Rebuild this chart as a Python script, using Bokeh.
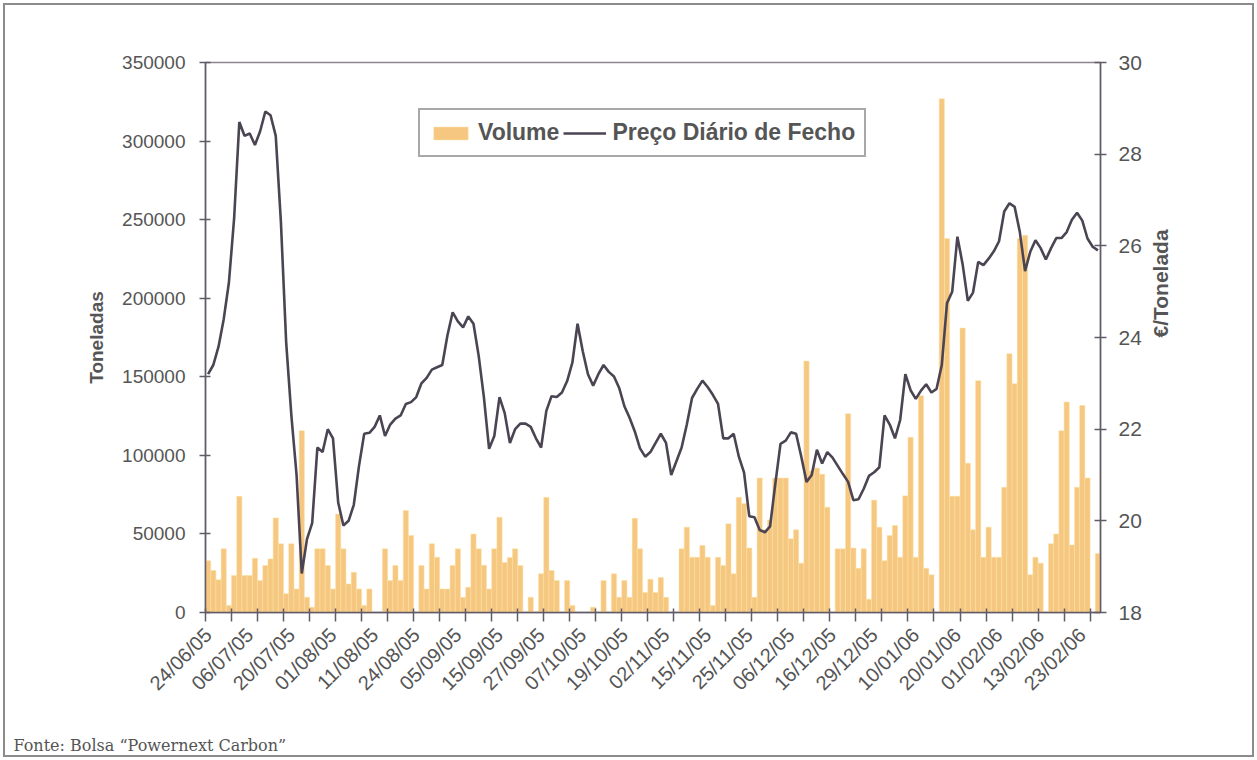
import math
from bokeh.plotting import figure
from bokeh.models import (Range1d, LinearAxis, FixedTicker, BasicTickFormatter,
                          Legend, LegendItem, Label, ColumnDataSource)
from bokeh.embed import file_html
from bokeh.resources import INLINE

# ---------------- data ----------------
date_labels = ["24/06/05", "06/07/05", "20/07/05", "01/08/05", "11/08/05", "24/08/05",
               "05/09/05", "15/09/05", "27/09/05", "07/10/05", "19/10/05", "02/11/05",
               "15/11/05", "25/11/05", "06/12/05", "16/12/05", "29/12/05", "10/01/06",
               "20/01/06", "01/02/06", "13/02/06", "23/02/06"]

volume = [33000, 26700, 20800, 40500, 4500, 23500, 74000, 23500, 23500, 34500,
          20300, 29900, 34100, 60200, 43700, 12000, 43700, 15000, 115700, 9700,
          3400, 40500, 40500, 29900, 15000, 62700, 40500, 18200, 25600, 15000,
          4500, 15000, 0, 0, 40500, 20300, 29900, 20300, 64900, 49000,
          0, 29900, 15000, 43700, 35200, 15000, 15000, 29900, 40500, 9700,
          16100, 50000, 40500, 30000, 15000, 40500, 60600, 31800, 35000, 40500,
          29900, 0, 9700, 0, 24600, 73300, 26700, 20300, 0, 20300,
          4500, 0, 0, 0, 3400, 0, 20300, 0, 24600, 9700,
          20300, 9700, 59900, 40500, 12800, 21200, 12800, 22300, 9700, 0,
          0, 40500, 54300, 35200, 35200, 42600, 35200, 4500, 35200, 29900,
          56400, 24600, 73300, 69300, 41100, 9700, 85600, 52600, 58900, 85600,
          85600, 85600, 47000, 52600, 31400, 160000, 90000, 92000, 88000, 67000,
          0, 40500, 40500, 126500, 41000, 28200, 40500, 8500, 71500, 54300,
          33000, 49000, 55400, 35200, 74200, 111500, 35200, 138000, 28200, 24000,
          0, 327000, 238000, 74000, 74000, 181000, 95000, 52600, 147500, 35200,
          54300, 35200, 35200, 79700, 164700, 145600, 238000, 240000, 24000, 35200,
          31400, 0, 43700, 50000, 115700, 134000, 43000, 79700, 131700, 85600,
          0, 37500]

price = [23.2, 23.4, 23.8, 24.4, 25.2, 26.6, 28.7, 28.4, 28.45, 28.2,
         28.5, 28.93, 28.85, 28.4, 26.5, 23.9, 22.3, 21.0, 18.85, 19.6,
         19.95, 21.6, 21.5, 22.0, 21.8, 20.4, 19.9, 20.0, 20.35, 21.2,
         21.9, 21.92, 22.05, 22.3, 21.85, 22.1, 22.23, 22.3, 22.55, 22.59,
         22.7, 23.0, 23.12, 23.3, 23.35, 23.4, 24.05, 24.55, 24.35, 24.22,
         24.46, 24.3, 23.6, 22.7, 21.57, 21.85, 22.7, 22.35, 21.7, 22.0,
         22.12, 22.12, 22.05, 21.8, 21.6, 22.4, 22.72, 22.7, 22.8, 23.05,
         23.45, 24.3, 23.7, 23.2, 22.95, 23.2, 23.4, 23.25, 23.15, 22.9,
         22.5, 22.25, 21.95, 21.58, 21.4, 21.5, 21.7, 21.9, 21.7, 21.0,
         21.3, 21.6, 22.1, 22.68, 22.88, 23.06, 22.92, 22.75, 22.55, 21.8,
         21.8, 21.9, 21.4, 21.05, 20.1, 20.08, 19.8, 19.75, 19.88, 20.8,
         21.68, 21.75, 21.93, 21.9, 21.4, 20.85, 21.0, 21.55, 21.25, 21.5,
         21.38, 21.2, 21.02, 20.85, 20.45, 20.47, 20.7, 20.98, 21.06, 21.17,
         22.3, 22.1, 21.8, 22.2, 23.2, 22.85, 22.66, 22.84, 22.98, 22.8,
         22.88, 23.4, 24.75, 25.0, 26.2, 25.6, 24.8, 24.98, 25.65, 25.58,
         25.72, 25.88, 26.1, 26.75, 26.93, 26.85, 26.3, 25.45, 25.87, 26.12,
         25.95, 25.7, 25.95, 26.17, 26.17, 26.3, 26.57, 26.72, 26.55, 26.16,
         25.98, 25.9]

label_every = 8
tick_every = 5
vol_ticks = [0, 50000, 100000, 150000, 200000, 250000, 300000, 350000]
price_ticks = [18, 20, 22, 24, 26, 28, 30]

# ---------------- figure ----------------
n = len(price)
xs = [i + 0.5 for i in range(n)]
src = ColumnDataSource(dict(x=xs, volume=volume, price=price))

FONT = "Liberation Sans"
GREY_TXT = "#555555"
AXIS_COL = "#615b68"

p = figure(width=1247, height=750, output_backend="svg", toolbar_location=None,
           x_range=Range1d(0, n), y_range=Range1d(0, 350000),
           min_border_left=200, min_border_right=152, min_border_top=57,
           min_border_bottom=143)
p.xgrid.visible = False
p.ygrid.visible = False
p.outline_line_color = "#8a8590"
p.outline_line_width = 1.5
p.background_fill_color = "white"
p.border_fill_color = "white"
p.styles = {"margin": "5px", "outline": "2px solid #8c8c8c", "outline-offset": "0px"}

p.extra_y_ranges = {"price": Range1d(18, 30)}

bars = p.vbar(x="x", top="volume", width=1.0, source=src,
              fill_color="#F6C781", line_color="#FBE2A0", line_width=0.5)
line = p.line(x="x", y="price", source=src, y_range_name="price",
              line_color="#4B4452", line_width=2.6)

# left axis
ya = p.yaxis[0]
ya.ticker = FixedTicker(ticks=vol_ticks)
ya.formatter = BasicTickFormatter(use_scientific=False)
ya.axis_label = "Toneladas"
ya.axis_label_text_font = FONT
ya.axis_label_text_font_style = "bold"
ya.axis_label_text_font_size = "19px"
ya.axis_label_text_color = GREY_TXT
ya.axis_label_standoff = 12
ya.major_label_text_font = FONT
ya.major_label_text_font_size = "19px"
ya.major_label_text_color = GREY_TXT
ya.major_label_standoff = 14
ya.axis_line_color = AXIS_COL
ya.axis_line_width = 1.5
ya.major_tick_line_color = AXIS_COL
ya.major_tick_line_width = 1.5
ya.major_tick_in = 5
ya.major_tick_out = 6
ya.minor_tick_line_color = None

# right axis
ra = LinearAxis(y_range_name="price", ticker=FixedTicker(ticks=price_ticks))
ra.axis_label = "€/Tonelada"
ra.axis_label_orientation = math.pi / 2
ra.axis_label_text_font = FONT
ra.axis_label_text_font_style = "bold"
ra.axis_label_text_font_size = "21px"
ra.axis_label_text_color = GREY_TXT
ra.axis_label_standoff = 16
ra.major_label_text_font = FONT
ra.major_label_text_font_size = "21px"
ra.major_label_text_color = GREY_TXT
ra.major_label_standoff = 12
ra.axis_line_color = AXIS_COL
ra.axis_line_width = 1.5
ra.major_tick_line_color = AXIS_COL
ra.major_tick_line_width = 1.5
ra.major_tick_in = 6
ra.major_tick_out = 6
ra.minor_tick_line_color = None
p.add_layout(ra, "right")

# bottom axis: labels every 8 categories, tick marks every 5 categories
label_pos = [i + 0.5 for i in range(0, n, label_every)][:len(date_labels)]
tick_pos = list(range(0, n, tick_every))
xa = p.xaxis[0]
xa.ticker = FixedTicker(ticks=label_pos, minor_ticks=tick_pos)
xa.major_label_overrides = {pos: lab for pos, lab in zip(label_pos, date_labels)}
xa.major_label_orientation = math.pi / 4
xa.major_label_text_font = FONT
xa.major_label_text_font_size = "20px"
xa.major_label_text_color = GREY_TXT
xa.major_label_standoff = 10
xa.major_tick_in = 0
xa.major_tick_out = 0
xa.minor_tick_in = 4
xa.minor_tick_out = 9
xa.minor_tick_line_color = AXIS_COL
xa.minor_tick_line_width = 1.5
xa.axis_line_color = AXIS_COL
xa.axis_line_width = 1.5

# legend
legend = Legend(items=[LegendItem(label="Volume", renderers=[bars]),
                       LegendItem(label="Preço Diário de Fecho", renderers=[line])],
                location=(213, 455), orientation="horizontal",
                label_text_font=FONT, label_text_font_style="bold",
                label_text_font_size="23px", label_text_color=GREY_TXT,
                glyph_width=43, glyph_height=16, label_standoff=6, spacing=4,
                padding=9, margin=0,
                border_line_color="#555058", border_line_width=2,
                background_fill_color="white", background_fill_alpha=1.0)
p.add_layout(legend)

# source note, placed in the panel below the x axis (not clipped to the frame)
source_note = Label(x=-192, y=-21, x_units="screen", y_units="screen",
                    text="Fonte: Bolsa “Powernext Carbon”",
                    text_font="DejaVu Serif", text_font_size="16px",
                    text_color="#555555", text_baseline="middle")
p.add_layout(source_note, "below")

open("out.html", "w").write(file_html(p, INLINE))
